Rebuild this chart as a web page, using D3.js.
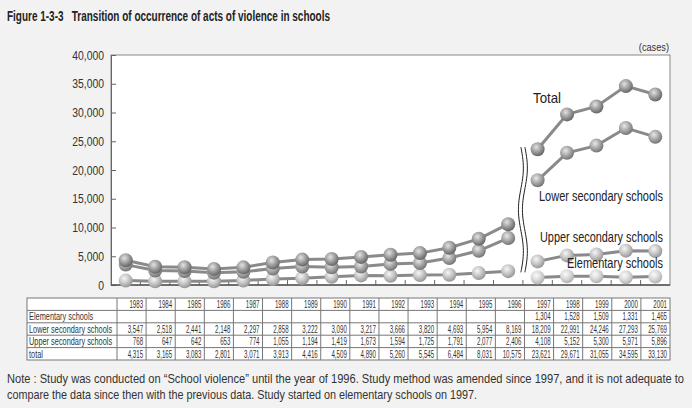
<!DOCTYPE html>
<html>
<head>
<meta charset="utf-8">
<script src="https://cdn.jsdelivr.net/npm/d3@7"></script>
<style>
  body { margin: 0; background: #f2f2f2; }
  svg { display: block; }
  text { font-family: "Liberation Sans", Arial, sans-serif; }
</style>
</head>
<body>
<script>
var years = ["1983","1984","1985","1986","1987","1988","1989","1990","1991","1992",
             "1993","1994","1995","1996","1997","1998","1999","2000","2001"];
var elementary = [null,null,null,null,null,null,null,null,null,null,null,null,null,null,
                  1304,1528,1509,1331,1465];
var lower = [3547,2518,2441,2148,2297,2858,3222,3090,3217,3666,3820,4693,5954,8169,
             18209,22991,24246,27293,25769];
var upper = [768,647,642,653,774,1055,1194,1419,1673,1594,1725,1791,2077,2406,
             4108,5152,5300,5971,5896];
var total = [4315,3165,3083,2801,3071,3913,4416,4509,4890,5260,5545,6484,8031,10575,
             23621,29671,31055,34595,33130];
var rowNames = ["Elementary schools","Lower secondary schools","Upper secondary schools","total"];
var yTicks = [0,5000,10000,15000,20000,25000,30000,35000,40000];
var breakAfter = "1996";

var W = 692, H = 408;
var svg = d3.select("body").append("svg").attr("width", W).attr("height", H);
svg.append("rect").attr("width", W).attr("height", H).attr("fill", "#f2f2f2");

// no condensed font installed, so squeeze text horizontally
function squeeze(sel, sx) {
  sel.each(function() {
    var t = d3.select(this);
    var tx0 = +t.attr("x") || 0, ty0 = +t.attr("y") || 0;
    t.attr("x", 0).attr("y", 0)
      .attr("transform", "translate(" + tx0 + "," + ty0 + ") scale(" + sx + ",1)");
  });
}

var defs = svg.append("defs");
function ball(id, c0, c1, c2) {
  var g = defs.append("radialGradient").attr("id", id)
    .attr("cx", "40%").attr("cy", "35%").attr("r", "65%");
  g.append("stop").attr("offset", "0%").attr("stop-color", c0);
  g.append("stop").attr("offset", "55%").attr("stop-color", c1);
  g.append("stop").attr("offset", "100%").attr("stop-color", c2);
}
ball("gTotal", "#e2e2e2", "#9c9c9c", "#666");
ball("gLower", "#e8e8e8", "#a6a6a6", "#747474");
ball("gUpper", "#f6f6f6", "#c4c4c4", "#969696");
ball("gElem", "#fbfbfb", "#d8d8d8", "#b0b0b0");

// title
svg.append("text").attr("x", 7).attr("y", 21)
  .attr("font-size", 14).attr("font-weight", "bold").attr("fill", "#222")
  .attr("xml:space", "preserve")
  .attr("textLength", 323).attr("lengthAdjust", "spacingAndGlyphs")
  .text("Figure 1-3-3   Transition of occurrence of acts of violence in schools");

var x = d3.scaleBand().domain(years).range([111, 670]);
var y = d3.scaleLinear().domain([0, 40000]).range([285, 55]);

// plot area
svg.append("rect").attr("x", 111).attr("y", 55).attr("width", 559).attr("height", 230)
  .attr("fill", "#fff").attr("stroke", "#888").attr("stroke-width", 1);

svg.append("text").attr("x", 669).attr("y", 51)
  .attr("text-anchor", "end").attr("font-size", 11.5).attr("fill", "#333").text("(cases)")
  .call(squeeze, 0.8);

// axes
var yAxis = svg.append("g").attr("transform", "translate(111,0)")
  .call(d3.axisLeft(y).tickValues(yTicks).tickFormat(d3.format(",")).tickSizeInner(-5).tickSizeOuter(0).tickPadding(7));
yAxis.selectAll("text").attr("font-size", 13).attr("fill", "#333").call(squeeze, 0.8);
yAxis.selectAll("line,path").attr("stroke", "#666");

var bounds = years.slice(1).map(function(d) { return x(d); });
svg.append("g").selectAll("line").data(bounds).enter().append("line")
  .attr("x1", function(d) { return d; }).attr("x2", function(d) { return d; })
  .attr("y1", 285).attr("y2", 280).attr("stroke", "#666");
svg.append("line").attr("x1", 111).attr("x2", 670).attr("y1", 285).attr("y2", 285)
  .attr("stroke", "#555").attr("stroke-width", 1.5);

// series
var series = [
  { values: elementary, fill: "url(#gElem)" },
  { values: upper, fill: "url(#gUpper)" },
  { values: lower, fill: "url(#gLower)" },
  { values: total, fill: "url(#gTotal)" }
];
var cx = function(i) { return x(years[i]) + x.bandwidth() / 2; };
var cut = years.indexOf(breakAfter);
var line = d3.line()
  .defined(function(d) { return d.v != null; })
  .x(function(d) { return cx(d.i); })
  .y(function(d) { return y(d.v); });

series.forEach(function(s) {
  var pts = s.values.map(function(v, i) { return { v: v, i: i }; });
  [pts.slice(0, cut + 1), pts.slice(cut + 1)].forEach(function(seg) {
    svg.append("path").datum(seg).attr("d", line)
      .attr("fill", "none").attr("stroke", "#8a8a8a").attr("stroke-width", 3);
  });
});
series.forEach(function(s) {
  svg.append("g").selectAll("circle")
    .data(s.values.map(function(v, i) { return { v: v, i: i }; }).filter(function(d) { return d.v != null; }))
    .enter().append("circle")
    .attr("cx", function(d) { return cx(d.i); })
    .attr("cy", function(d) { return y(d.v); })
    .attr("r", 7)
    .attr("fill", s.fill);
});

// break mark
var bx = x(years[cut + 1]);
var wave = d3.range(0, 41).map(function(k) {
  var t = k / 40;
  return [bx + 2.5 * Math.sin(t * Math.PI * 3), y(24000) + t * (y(2200) - y(24000))];
});
var wl = d3.line().curve(d3.curveBasis);
svg.append("path").attr("d", wl(wave))
  .attr("fill", "none").attr("stroke", "#fff").attr("stroke-width", 5);
[-2, 2].forEach(function(o) {
  svg.append("path").attr("d", wl(wave.map(function(p) { return [p[0] + o, p[1]]; })))
    .attr("fill", "none").attr("stroke", "#222").attr("stroke-width", 1);
});

// series labels
var labels = [
  { t: "Total", x: 533, y: 103, w: 28 },
  { t: "Lower secondary schools", x: 539, y: 201, w: 124 },
  { t: "Upper secondary schools", x: 540, y: 242, w: 123 },
  { t: "Elementary schools", x: 567, y: 268, w: 96 }
];
svg.append("g").selectAll("text").data(labels).enter().append("text")
  .attr("x", function(d) { return d.x; }).attr("y", function(d) { return d.y; })
  .attr("font-size", 14.5).attr("fill", "#222")
  .attr("textLength", function(d) { return d.w; }).attr("lengthAdjust", "spacingAndGlyphs")
  .text(function(d) { return d.t; });

// data table
var tx = d3.scaleBand().domain(years).range([117, 670]);
var rowH = 12.4, tTop = 298, tLeft = 27;
var rows = [elementary, lower, upper, total];
var fmt = d3.format(",");
var tbl = svg.append("g");
tbl.append("rect").attr("x", tLeft).attr("y", tTop).attr("width", 670 - tLeft).attr("height", rowH * 5)
  .attr("fill", "#fff").attr("stroke", "#777");
d3.range(1, 5).forEach(function(r) {
  tbl.append("line").attr("x1", tLeft).attr("x2", 670)
    .attr("y1", tTop + r * rowH).attr("y2", tTop + r * rowH).attr("stroke", "#777");
});
years.forEach(function(yr) {
  tbl.append("line").attr("x1", tx(yr)).attr("x2", tx(yr))
    .attr("y1", tTop).attr("y2", tTop + 5 * rowH).attr("stroke", "#777");
});
tbl.selectAll("text.yr").data(years).enter().append("text")
  .attr("x", function(d) { return tx(d) + tx.bandwidth() - 3; })
  .attr("y", tTop + rowH - 2.5)
  .attr("text-anchor", "end").attr("font-size", 11).attr("fill", "#333")
  .text(function(d) { return d; })
  .call(squeeze, 0.56);
rowNames.forEach(function(name, r) {
  tbl.append("text").attr("x", tLeft + 2).attr("y", tTop + (r + 2) * rowH - 2.5)
    .attr("font-size", 11).attr("fill", "#333").text(name)
    .call(squeeze, 0.67);
  rows[r].forEach(function(v, i) {
    if (v == null) return;
    tbl.append("text")
      .attr("x", tx(years[i]) + tx.bandwidth() - 3)
      .attr("y", tTop + (r + 2) * rowH - 2.5)
      .attr("text-anchor", "end").attr("font-size", 11).attr("fill", "#333")
      .text(fmt(v))
      .call(squeeze, 0.56);
  });
});

// note
var note = [
  { t: "Note : Study was conducted on \u201cSchool violence\u201d until the year of 1996. Study method was amended since 1997, and it is not adequate to", w: 677 },
  { t: "compare the data since then with the previous data. Study started on elementary schools on 1997.", w: 470 }
];
svg.append("g").selectAll("text").data(note).enter().append("text")
  .attr("x", 7)
  .attr("y", function(d, i) { return 383 + i * 16; })
  .attr("font-size", 13).attr("fill", "#333")
  .attr("textLength", function(d) { return d.w; }).attr("lengthAdjust", "spacingAndGlyphs")
  .text(function(d) { return d.t; });
</script>
</body>
</html>
